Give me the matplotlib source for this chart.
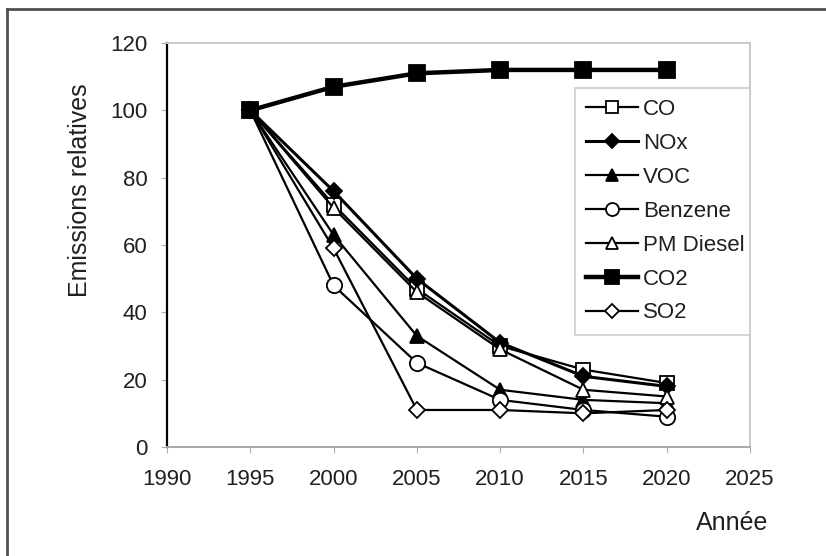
import matplotlib
matplotlib.use("Agg")
import matplotlib.pyplot as plt
from matplotlib.lines import Line2D

plt.rcParams["font.family"] = ["Liberation Sans", "DejaVu Sans"]

# data
years = [1995, 2000, 2005, 2010, 2015, 2020]
co = [100, 72, 47, 30, 23, 19]
nox = [100, 76, 50, 31, 21, 18]
voc = [100, 63, 33, 17, 14, 13]
benzene = [100, 48, 25, 14, 11, 9]
pm_diesel = [100, 71, 46, 29, 17, 15]
co2 = [100, 107, 111, 112, 112, 112]
so2 = [100, 59, 11, 11, 10, 11]

series = [
    ("CO", co, dict(marker="s", mfc="white", ms=10, lw=1.6)),
    ("NOx", nox, dict(marker="D", mfc="black", ms=8, lw=2.2)),
    ("VOC", voc, dict(marker="^", mfc="black", ms=10, lw=1.6)),
    ("Benzene", benzene, dict(marker="o", mfc="white", ms=11, lw=1.6)),
    ("PM Diesel", pm_diesel, dict(marker="^", mfc="white", ms=10, lw=1.6)),
    ("CO2", co2, dict(marker="s", mfc="black", ms=12, lw=3.2)),
    ("SO2", so2, dict(marker="D", mfc="white", ms=8, lw=1.6)),
]

fig = plt.figure(figsize=(8.26, 5.56), dpi=100)
ax = fig.add_axes([167 / 826, 1 - 447 / 556, 583 / 826, 404 / 556])

for name, vals, st in series:
    z = 5 if name == "CO2" else 3
    ax.plot(years, vals, color="black", lw=st["lw"], marker=st["marker"],
            ms=st["ms"], mfc=st["mfc"], mec="black", mew=1.3, zorder=z,
            label=name)

ax.set_xlim(1990, 2025)
ax.set_ylim(0, 120)
ax.set_xticks(range(1990, 2026, 5))
ax.set_yticks(range(0, 121, 20))
ax.tick_params(labelsize=16, length=4, color="#b0b0b0", direction="out")
ax.tick_params(axis="y", pad=10)
ax.tick_params(axis="x", pad=12)
for lab in ax.get_xticklabels() + ax.get_yticklabels():
    lab.set_color("#202020")

ax.spines["left"].set_color("black")
ax.spines["left"].set_linewidth(1.6)
ax.spines["bottom"].set_color("#a8a8a8")
ax.spines["bottom"].set_linewidth(1.4)
for s in ["top", "right"]:
    ax.spines[s].set_color("#c8c8c8")
    ax.spines[s].set_linewidth(1.4)

leg = ax.legend(loc="upper left", mode="expand",
                bbox_to_anchor=(408 / 583, 0, 175 / 583, 359 / 404),
                fontsize=16, markerscale=0.85,
                handlelength=2.35, handletextpad=0.2, labelspacing=0.58,
                borderpad=0.5, borderaxespad=0, fancybox=False)
leg.get_frame().set_edgecolor("#c8c8c8")
leg.get_frame().set_linewidth(1.4)
for t in leg.get_texts():
    t.set_color("#202020")

fig.text(80 / 826, 1 - 190 / 556, "Emissions relatives", rotation=90,
         ha="center", va="center", fontsize=18, color="#202020")
fig.text(732 / 826, 1 - 523 / 556, "Année", ha="center", va="center",
         fontsize=18, color="#202020")

# outer frame lines (top and left)
fig.add_artist(Line2D([7 / 826, 7 / 826], [0, 1 - 9 / 556], color="#505050",
                      lw=2, transform=fig.transFigure))
fig.add_artist(Line2D([7 / 826, 1], [1 - 9 / 556, 1 - 9 / 556], color="#505050",
                      lw=2, transform=fig.transFigure))

fig.savefig("out.png", dpi=100)
